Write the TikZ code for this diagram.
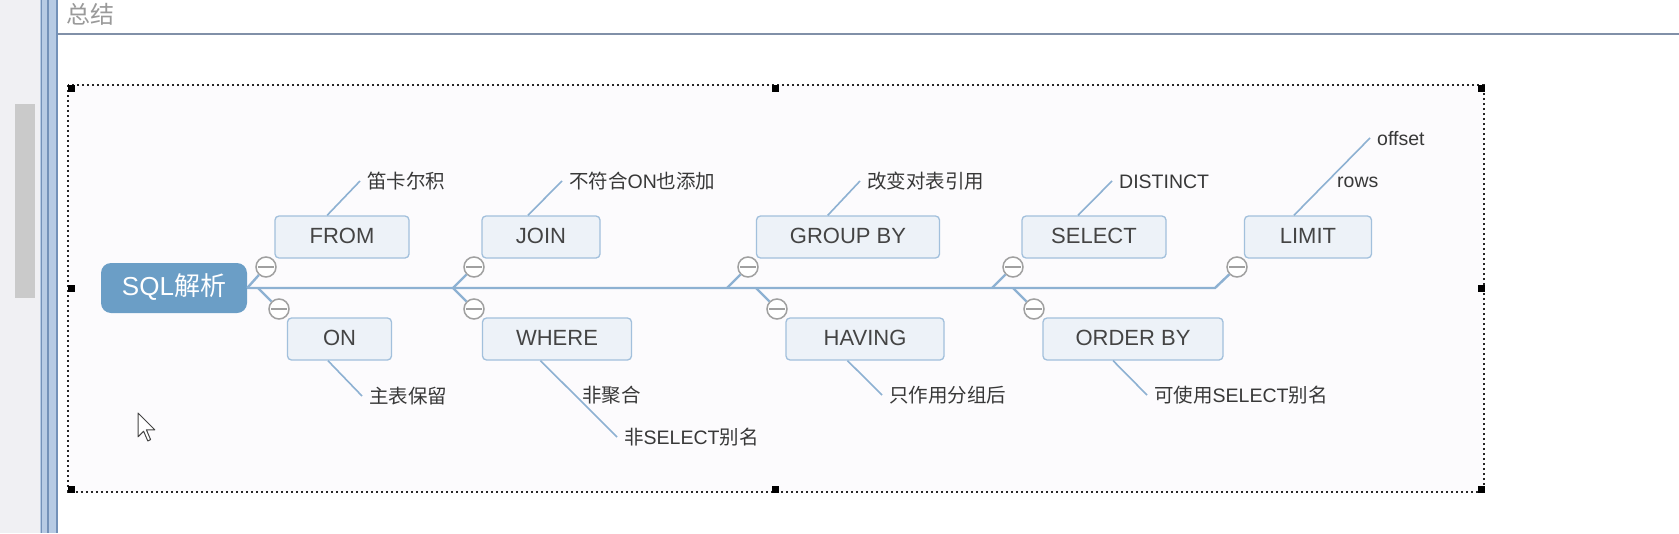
\documentclass[tikz,border=0pt]{standalone}
\usepackage{fontspec}
\setmainfont{Liberation Sans}
\newfontfamily\cjk{Noto Sans CJK SC}
\usetikzlibrary{calc}

\definecolor{trunkblue}{HTML}{8DB1D2}
\definecolor{boxfill}{HTML}{EDF2F8}
\definecolor{boxline}{HTML}{A2C0DC}
\definecolor{rootblue}{HTML}{6B9EC6}
\definecolor{inkgray}{HTML}{444444}
\definecolor{leafink}{HTML}{383838}
\definecolor{knobgray}{HTML}{A0A0A0}
\definecolor{panelgray}{HTML}{F0F0F3}
\definecolor{thumbgray}{HTML}{CACACA}
\definecolor{barblue}{HTML}{B7CBE4}
\definecolor{bardark}{HTML}{7391B8}
\definecolor{rulegray}{HTML}{8190A8}
\definecolor{titlegray}{HTML}{9A9A9A}
\definecolor{canvas}{HTML}{FCFBFD}

\begin{document}
\begin{tikzpicture}[x=1pt, y=-1pt,
    trunk/.style={trunkblue, line width=2.4pt},
    twig/.style={trunkblue, line width=1.6pt},
    topic/.style={draw=boxline, fill=boxfill, line width=1.3pt, rounded corners=4pt,
      minimum height=42pt, inner sep=0pt, text=inkgray,
      font=\fontsize{22pt}{26pt}\selectfont, text height=17pt, text depth=4pt},
    roottopic/.style={fill=rootblue, rounded corners=10pt, minimum width=146pt,
      minimum height=50pt, inner sep=0pt, text=white,
      font=\fontsize{26pt}{30pt}\selectfont, text height=20pt, text depth=6pt},
    knob/.style={circle, draw=knobgray, fill=white, line width=1.5pt,
      minimum size=20pt, inner sep=0pt,
      path picture={\draw[knobgray, line width=1.5pt]
        ([xshift=2pt]path picture bounding box.west) --
        ([xshift=-2pt]path picture bounding box.east);}},
    leaf/.style={anchor=west, inner xsep=7pt, inner ysep=0pt, text=leafink,
      font=\fontsize{19.5pt}{23pt}\selectfont, text height=18pt, text depth=4pt}]

  % Window background and frame
  \fill[white] (0,0) rectangle (1679,533);
  \useasboundingbox (0,0) rectangle (1679,533);
  \fill[panelgray] (0,0) rectangle (40,533);
  \fill[thumbgray] (15,104) rectangle (35,298);
  \fill[barblue] (40,0) rectangle (58,533);
  \draw[bardark, line width=1.5pt] (41.5,0) -- (41.5,533);
  \draw[bardark, line width=1.5pt] (48,0) -- (48,533);
  \draw[bardark, line width=1.5pt] (57,0) -- (57,533);
  \draw[rulegray, line width=2pt] (58,34) -- (1679,34);
  \node[anchor=west, inner sep=0pt, text=titlegray,
    font=\cjk\fontsize{24pt}{28pt}\selectfont] (title) at (66,14) {总结};

  % Selection frame with handles
  \draw[black!85, line width=1.2pt, dash pattern=on 2.4pt off 2.6pt, fill=canvas]
    (68,85) rectangle (1484,492);
  \foreach \p in {(71,88),(775,88),(1481,88),(71,288),(1481,288),(71,489),(775,489),(1481,489)}
    \fill[black] \p +(-3.5,-3.5) rectangle +(3.5,3.5);

  % Root and topics
  \node[roottopic] (root) at (174,288) {SQL{\cjk 解析}};
  \node[topic, minimum width=134pt] (from) at (342,237) {FROM};
  \node[topic, minimum width=104pt] (on) at (339.5,339) {ON};
  \node[topic, minimum width=118pt] (join) at (541,237) {JOIN};
  \node[topic, minimum width=149pt] (where) at (557,339) {WHERE};
  \node[topic, minimum width=183pt] (group) at (848,237) {GROUP BY};
  \node[topic, minimum width=158pt] (having) at (865,339) {HAVING};
  \node[topic, minimum width=144pt] (select) at (1094,237) {SELECT};
  \node[topic, minimum width=180pt] (order) at (1133,339) {ORDER BY};
  \node[topic, minimum width=127pt] (limit) at (1308,237) {LIMIT};

  % Collapse knobs
  \node[knob] (cfrom) at (266,267) {};
  \node[knob] (con) at (279,309) {};
  \node[knob] (cjoin) at (474,267) {};
  \node[knob] (cwhere) at (474,309) {};
  \node[knob] (cgroup) at (748,267) {};
  \node[knob] (chaving) at (777,309) {};
  \node[knob] (cselect) at (1013,267) {};
  \node[knob] (corder) at (1034,309) {};
  \node[knob] (climit) at (1237,267) {};

  % Trunk and branches
  \coordinate (jon) at (258,288);
  \coordinate (jjoin) at (453,288);
  \coordinate (jgroup) at (727,288);
  \coordinate (jhaving) at (756,288);
  \coordinate (jselect) at (992,288);
  \coordinate (jorder) at (1013,288);
  \coordinate (jlimit) at (1215,288);
  \draw[trunk] (root.east) -- (jlimit) -- (climit);
  \draw[trunk] (root.east) -- (cfrom);
  \draw[trunk] (jon) -- (con);
  \draw[trunk] (jjoin) -- (cjoin);
  \draw[trunk] (jjoin) -- (cwhere);
  \draw[trunk] (jgroup) -- (cgroup);
  \draw[trunk] (jhaving) -- (chaving);
  \draw[trunk] (jselect) -- (cselect);
  \draw[trunk] (jorder) -- (corder);

  % Leaves
  \node[leaf] (lfrom) at (360,181) {\cjk 笛卡尔积};
  \node[leaf] (lon) at (362,396) {\cjk 主表保留};
  \node[leaf] (ljoin) at (562,181) {{\cjk 不符合}ON{\cjk 也添加}};
  \node[leaf] (lwhereA) at (575,395) {\cjk 非聚合};
  \node[leaf] (lwhereB) at (617,437) {{\cjk 非}SELECT{\cjk 别名}};
  \node[leaf] (lgroup) at (860,181) {\cjk 改变对表引用};
  \node[leaf] (lhaving) at (882,395) {\cjk 只作用分组后};
  \node[leaf] (lselect) at (1112,181) {DISTINCT};
  \node[leaf] (lorder) at (1147,395) {{\cjk 可使用}SELECT{\cjk 别名}};
  \node[leaf] (llimitA) at (1330,180) {rows};
  \node[leaf] (llimitB) at (1370,138) {offset};

  \draw[twig] ($(from.north west)!0.39!(from.north east)$) -- (lfrom.west);
  \draw[twig] ($(on.south west)!0.39!(on.south east)$) -- (lon.west);
  \draw[twig] ($(join.north west)!0.39!(join.north east)$) -- (ljoin.west);
  \draw[twig] ($(where.south west)!0.39!(where.south east)$) -- (lwhereB.west);
  \draw[twig] ($(group.north west)!0.39!(group.north east)$) -- (lgroup.west);
  \draw[twig] ($(having.south west)!0.39!(having.south east)$) -- (lhaving.west);
  \draw[twig] ($(select.north west)!0.39!(select.north east)$) -- (lselect.west);
  \draw[twig] ($(order.south west)!0.39!(order.south east)$) -- (lorder.west);
  \draw[twig] ($(limit.north west)!0.39!(limit.north east)$) -- (llimitB.west);

  % Mouse pointer
  \draw[fill=white, draw=inkgray, line width=1pt, line join=round, shift={(138,413)}, scale=1.4]
    (0,0) -- (0,17) -- (4,13) -- (7,20) -- (9,19) -- (6,12) -- (12,12) -- cycle;
\end{tikzpicture}
\end{document}
